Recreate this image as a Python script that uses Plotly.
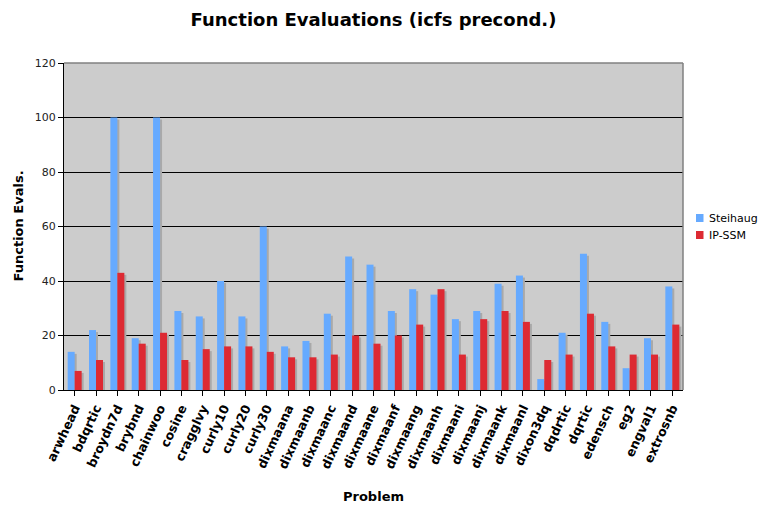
import plotly.graph_objects as go

problems = ["arwhead", "bdqrtic", "broydn7d", "brybnd", "chainwoo", "cosine",
            "cragglvy", "curly10", "curly20", "curly30", "dixmaana", "dixmaanb",
            "dixmaanc", "dixmaand", "dixmaane", "dixmaanf", "dixmaang", "dixmaanh",
            "dixmaani", "dixmaanj", "dixmaank", "dixmaanl", "dixon3dq", "dqdrtic",
            "dqrtic", "edensch", "eg2", "engval1", "extrosnb"]
steihaug = [14, 22, 100, 19, 100, 29, 27, 40, 27, 60, 16, 18, 28, 49, 46,
            29, 37, 35, 26, 29, 39, 42, 4, 21, 50, 25, 8, 19, 38]
ip_ssm = [7, 11, 43, 17, 21, 11, 15, 16, 16, 14, 12, 12, 13, 20, 17,
          20, 24, 37, 13, 26, 29, 25, 11, 13, 28, 16, 13, 13, 24]
y_ticks = [0, 20, 40, 60, 80, 100, 120]
series_names = ["Steihaug", "IP-SSM"]

W, H = 758, 506
ML, MR, MT, MB = 64, 75, 63, 116
plot_w = W - ML - MR
plot_h = H - MT - MB
y_max = 120
n = len(problems)
cat_px = plot_w / n
bar_w = 7 / cat_px               # bar width in category units
sh_dx = 2 / cat_px               # drop-shadow horizontal shift
sh_dy = 2 * y_max / plot_h       # drop-shadow vertical shift

FONT = "DejaVu Sans"
BLUE = "#66aaff"
RED = "#dd2a33"
SHADOW = "#a9a9a9"
colors = [BLUE, RED]

x = list(range(n))
fig = go.Figure()

# drop shadows behind each bar
for vals, off in ((steihaug, -bar_w), (ip_ssm, 0.0)):
    fig.add_trace(go.Bar(
        x=x, y=[max(v - sh_dy, 0) for v in vals], width=bar_w,
        offset=off + sh_dx, marker=dict(color=SHADOW, line=dict(width=0)),
        showlegend=False, hoverinfo="skip"))

for vals, name, col, off in ((steihaug, series_names[0], BLUE, -bar_w),
                             (ip_ssm, series_names[1], RED, 0.0)):
    fig.add_trace(go.Bar(x=x, y=vals, name=name, width=bar_w, offset=off,
                         marker=dict(color=col, line=dict(width=0)),
                         showlegend=False))

def px_x(p):
    return (p - ML) / plot_w

def px_y(p):
    return (H - MB - p) / plot_h

annotations = [
    dict(text="<b>Function Evals.</b>", textangle=-90, x=px_x(18), xref="paper",
         xanchor="center", y=0.5, yref="paper", yanchor="middle",
         showarrow=False, font=dict(size=13, family=FONT)),
    dict(text="<b>Problem</b>", x=0.5, xref="paper", xanchor="center",
         y=px_y(497), yref="paper", yanchor="middle",
         showarrow=False, font=dict(size=13, family=FONT)),
]
shapes = [
    dict(type="line", xref="paper", yref="paper", x0=0, x1=1, y0=1, y1=1,
         line=dict(color="#808080", width=1.5)),
    dict(type="line", xref="paper", yref="paper", x0=1, x1=1, y0=0, y1=1,
         line=dict(color="#808080", width=1.5)),
]

# legend: small swatches with labels to the right of the plot area
for i, (name, col) in enumerate(zip(series_names, colors)):
    cy = 218 + 17 * i
    shapes.append(dict(type="rect", xref="paper", yref="paper",
                       x0=px_x(696), x1=px_x(703.5), y0=px_y(cy - 4), y1=px_y(cy + 4),
                       fillcolor=col, line=dict(width=0)))
    annotations.append(dict(text=name, x=px_x(707), xref="paper", xanchor="left",
                            y=px_y(cy), yref="paper", yanchor="middle",
                            showarrow=False, font=dict(size=11, family=FONT)))

fig.update_layout(
    width=W, height=H, barmode="overlay", showlegend=False,
    margin=dict(l=ML, r=MR, t=MT, b=MB, autoexpand=False),
    paper_bgcolor="white", plot_bgcolor="#cccccc",
    font=dict(family=FONT, color="black"),
    title=dict(text="<b>Function Evaluations (icfs precond.)</b>",
               x=0.5, xanchor="center", xref="paper",
               y=1 - 20 / H, yanchor="middle", yref="container",
               font=dict(size=18, family=FONT)),
    xaxis=dict(tickmode="array", tickvals=x,
               ticktext=["<b>%s</b>" % p for p in problems],
               range=[-0.5, n - 0.5], tickangle=-65,
               tickfont=dict(size=12.5, family=FONT),
               showgrid=False, showline=True, linecolor="black", linewidth=1,
               ticks="outside", ticklen=5, tickcolor="black", tickson="boundaries",
               zeroline=False),
    yaxis=dict(range=[0, y_max], tickvals=y_ticks,
               tickfont=dict(size=11, family=FONT, color="#222222"),
               showgrid=True, gridcolor="black", gridwidth=1,
               showline=True, linecolor="black", linewidth=1,
               ticks="outside", ticklen=5, tickcolor="black", zeroline=False),
    annotations=annotations,
    shapes=shapes,
)

fig.write_html("out.html")
